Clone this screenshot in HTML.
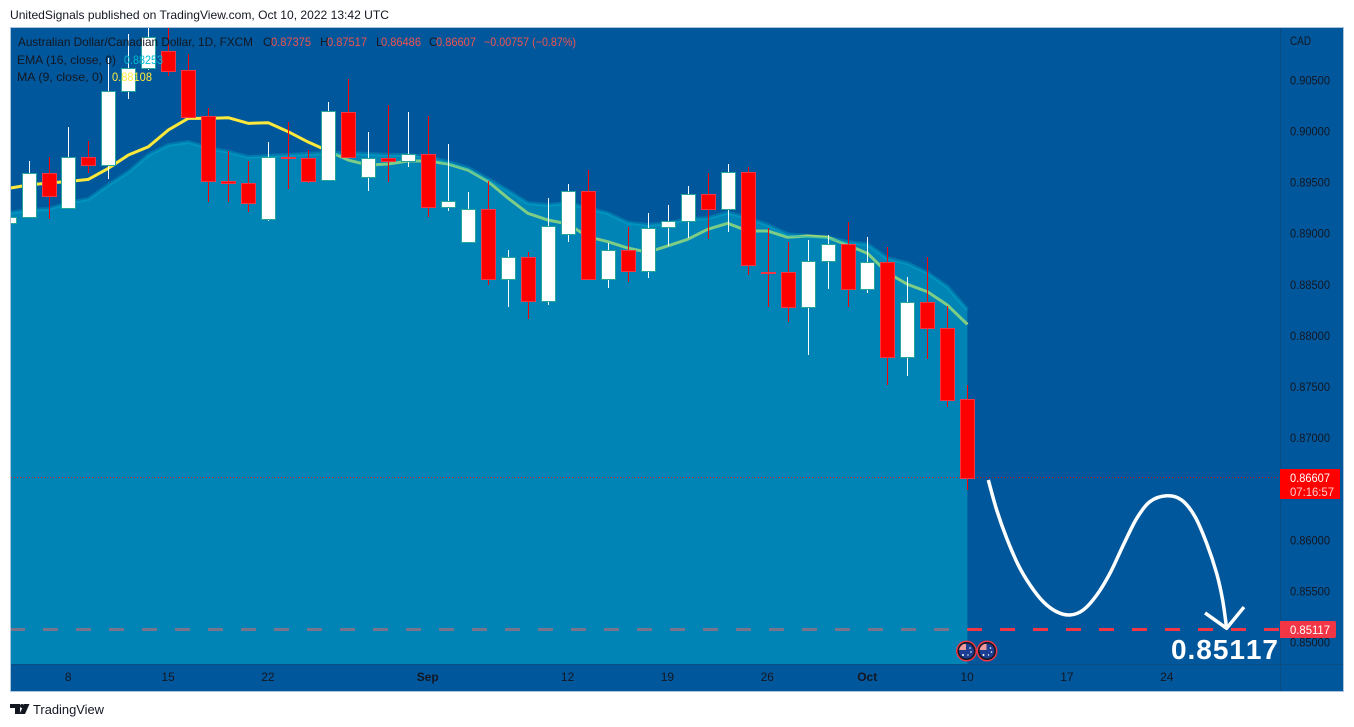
<!DOCTYPE html>
<html lang="en">
<head>
<meta charset="utf-8">
<title>AUD/CAD chart</title>
<style>
html,body{margin:0;padding:0;background:#fff;width:1354px;height:727px;overflow:hidden}
svg{display:block;position:absolute;left:0;top:0}
text{font-family:"Liberation Sans",sans-serif;font-size:12px;fill:#131722}
</style>
</head>
<body>
<svg id="chart" xmlns="http://www.w3.org/2000/svg" width="1354" height="727" viewBox="0 0 1354 727">
  <defs>
    <clipPath id="plot-clip"><rect x="11" y="28" width="1269" height="636"/></clipPath>
    <clipPath id="flag-a"><circle cx="966.5" cy="651" r="7.5"/></clipPath>
    <clipPath id="flag-b"><circle cx="987" cy="651" r="7.5"/></clipPath>
  </defs>

  <text x="10" y="19" textLength="379" lengthAdjust="spacingAndGlyphs" font-size="12">UnitedSignals published on TradingView.com, Oct 10, 2022 13:42 UTC</text>

  <rect x="10.5" y="27.5" width="1333" height="664" fill="#01579b" stroke="#a9c4dc" stroke-width="1"/>

  <g id="plot" clip-path="url(#plot-clip)"></g>

  <line x1="1280.5" y1="28" x2="1280.5" y2="691" stroke="#0a4d82" stroke-width="1"/>
  <line x1="11" y1="664.5" x2="1343" y2="664.5" stroke="#0a4d82" stroke-width="1"/>

  <g id="y-axis"></g>
  <g id="x-axis"></g>

  <text x="1290" y="45" textLength="21" lengthAdjust="spacingAndGlyphs">CAD</text>

  <g>
    <rect x="1280" y="469" width="60" height="30" fill="#ff0000"/>
    <text x="1290" y="482" textLength="40" lengthAdjust="spacingAndGlyphs" style="fill:#ffffff">0.86607</text>
    <text x="1290" y="496" textLength="44" lengthAdjust="spacingAndGlyphs" style="fill:#ffc9c9">07:16:57</text>
  </g>

  <g>
    <path d="M1280 621H1334a2 2 0 0 1 2 2V636a2 2 0 0 1 -2 2H1280Z" fill="#f23645"/>
    <text x="1290" y="634" textLength="40" lengthAdjust="spacingAndGlyphs" style="fill:#ffffff">0.85117</text>
  </g>

  <g>
    <text x="18" y="46" textLength="235" lengthAdjust="spacingAndGlyphs">Australian Dollar/Canadian Dollar, 1D, FXCM</text>
    <text x="263" y="46">O</text>
    <text x="271" y="46" textLength="40" lengthAdjust="spacingAndGlyphs" style="fill:#ef5350">0.87375</text>
    <text x="320" y="46">H</text>
    <text x="327" y="46" textLength="40" lengthAdjust="spacingAndGlyphs" style="fill:#ef5350">0.87517</text>
    <text x="376" y="46">L</text>
    <text x="381" y="46" textLength="40" lengthAdjust="spacingAndGlyphs" style="fill:#ef5350">0.86486</text>
    <text x="429" y="46">C</text>
    <text x="436" y="46" textLength="40" lengthAdjust="spacingAndGlyphs" style="fill:#ef5350">0.86607</text>
    <text x="484" y="46" textLength="92" lengthAdjust="spacingAndGlyphs" style="fill:#ef5350">−0.00757 (−0.87%)</text>
    <text x="17" y="64" textLength="99" lengthAdjust="spacingAndGlyphs">EMA (16, close, 0)</text>
    <text x="124" y="64" textLength="39" lengthAdjust="spacingAndGlyphs" style="fill:#00bcd4">0.88253</text>
    <text x="17" y="81" textLength="86" lengthAdjust="spacingAndGlyphs">MA (9, close, 0)</text>
    <text x="112" y="81" textLength="40" lengthAdjust="spacingAndGlyphs" style="fill:#ffeb3b">0.88108</text>
  </g>

  <g>
    <circle cx="966.5" cy="651" r="10.5" fill="#f23645"/>
    <circle cx="966.5" cy="651" r="9" fill="#131722"/>
    <circle cx="966.5" cy="651" r="7.5" fill="#1c3f94"/>
    <g clip-path="url(#flag-a)"><rect x="959" y="644" width="7" height="6" fill="#ef9a9a"/></g>
    <circle cx="963" cy="655" r="1" fill="#fff"/><circle cx="970" cy="648" r=".8" fill="#fff"/><circle cx="971" cy="652" r=".8" fill="#fff"/><circle cx="968" cy="655" r=".7" fill="#fff"/>
  </g>
  <g>
    <circle cx="987" cy="651" r="10.5" fill="#f23645"/>
    <circle cx="987" cy="651" r="9" fill="#131722"/>
    <circle cx="987" cy="651" r="7.5" fill="#1c3f94"/>
    <g clip-path="url(#flag-b)"><rect x="979.5" y="644" width="7" height="6" fill="#ef9a9a"/></g>
    <circle cx="983.5" cy="655" r="1" fill="#fff"/><circle cx="990.5" cy="648" r=".8" fill="#fff"/><circle cx="991.5" cy="652" r=".8" fill="#fff"/><circle cx="988.5" cy="655" r=".7" fill="#fff"/>
  </g>

  <text x="1171" y="659" textLength="107" lengthAdjust="spacing" style="fill:#ffffff;font-size:28px;font-weight:bold;font-kerning:none">0.85117</text>

  <g>
    <path d="M10 704H20V714H15V708H10ZM24 704H29.5L25 714H19.5Z" fill="#131722"/>
    <circle cx="22" cy="706" r="2" fill="#131722"/>
    <text x="33" y="714" textLength="71" lengthAdjust="spacingAndGlyphs" font-size="13" style="font-size:13px">TradingView</text>
  </g>
</svg>

<script>
const barDates = ["Aug 3","Aug 4","Aug 5","Aug 8","Aug 9","Aug 10","Aug 11","Aug 12","Aug 15","Aug 16","Aug 17","Aug 18","Aug 19","Aug 22","Aug 23","Aug 24","Aug 25","Aug 26","Aug 29","Aug 30","Aug 31","Sep 1","Sep 2","Sep 5","Sep 6","Sep 7","Sep 8","Sep 9","Sep 12","Sep 13","Sep 14","Sep 15","Sep 16","Sep 19","Sep 20","Sep 21","Sep 22","Sep 23","Sep 26","Sep 27","Sep 28","Sep 29","Sep 30","Oct 3","Oct 4","Oct 5","Oct 6","Oct 7","Oct 10"];
const opens = [.89100,.89161,.89589,.89247,.89746,.89664,.90388,.90616,.90783,.90597,.90147,.89511,.89488,.89139,.89746,.89736,.89520,.90189,.89547,.89733,.89704,.89772,.89259,.88911,.89234,.88555,.88764,.88334,.88989,.89410,.88555,.88833,.88627,.89058,.89116,.89381,.89234,.89596,.88620,.88617,.88275,.88725,.88891,.88451,.88715,.87786,.88324,.88069,.87375];
const closes = [.89158,.89589,.89368,.89746,.89664,.90388,.90616,.90920,.90590,.90140,.89511,.89488,.89295,.89746,.89731,.89514,.90196,.89743,.89733,.89704,.89772,.89259,.89312,.89234,.88555,.88764,.88334,.89067,.89410,.88555,.88833,.88627,.89048,.89116,.89381,.89234,.89596,.88686,.88614,.88275,.88725,.88891,.88451,.88715,.87786,.88324,.88069,.87365,.86607];
const highs = [.8918,.89706,.89746,.90039,.89902,.90714,.90949,.91135,.91086,.90753,.90225,.89804,.89706,.89892,.90088,.89814,.90284,.90509,.89990,.90254,.90186,.90147,.89873,.89403,.89514,.88836,.88816,.89344,.89481,.89618,.88901,.89061,.89198,.89276,.89462,.89586,.89677,.89645,.89048,.88914,.88933,.88982,.89107,.88960,.88862,.88571,.88764,.88288,.87517];
const lows = [.8905,.89154,.89139,.89241,.89589,.89530,.90316,.90597,.90538,.90140,.89308,.89308,.89210,.89122,.89435,.89494,.89520,.89743,.89416,.89504,.89651,.89161,.89220,.88911,.88493,.88281,.88160,.88300,.88914,.88555,.88467,.88525,.88565,.88870,.88953,.88943,.89015,.88591,.88275,.88134,.87811,.88457,.88281,.88418,.87512,.87606,.87772,.87302,.86486];
const emaValues = [.89198,.89227,.89237,.89295,.89335,.89472,.89599,.89765,.89863,.89892,.89834,.89795,.89746,.89755,.89765,.89775,.89785,.89785,.89775,.89765,.89765,.89746,.89697,.89638,.89530,.89416,.89293,.89276,.89295,.89247,.89195,.89103,.89080,.89095,.89139,.89146,.89201,.89149,.89080,.88989,.88973,.88960,.88914,.88891,.88754,.88705,.88613,.88476,.88253];
const maValues = [.89439,.89472,.89491,.89506,.89527,.89635,.89765,.89846,.90010,.90124,.90124,.90130,.90075,.90081,.89993,.89892,.89804,.89716,.89667,.89677,.89706,.89706,.89677,.89618,.89506,.89344,.89195,.89129,.89090,.88966,.88917,.88855,.88813,.88875,.88940,.89038,.89097,.89022,.89022,.88960,.88973,.88960,.88884,.88803,.88613,.88500,.88427,.88297,.88108];
const priceTickValues = [.905,.90,.895,.89,.885,.88,.875,.87,.865,.86,.855,.85];
const priceTickLabels = ["0.90500","0.90000","0.89500","0.89000","0.88500","0.88000","0.87500","0.87000","","0.86000","0.85500","0.85000"];
const timeTickBars = [3,8,13,21,28,33,38,43,48,53,58];
const timeTickLabels = ["8","15","22","Sep","12","19","26","Oct","10","17","24"];
const lastPrice = 0.86607;
const targetPrice = 0.85117;
const projectionBars = [49.05,49.47,49.97,50.55,51.14,51.80,52.47,53.14,53.80,54.48,55.14,55.81,56.48,57.14,57.98,58.73,59.40,59.98,60.48,60.78,60.98];
const projectionPrices = [.86585,.86291,.86015,.85753,.85558,.85394,.85296,.85264,.85313,.85460,.85672,.85949,.86210,.86373,.86431,.86389,.86226,.85966,.85672,.85411,.85134];
const arrowBars = [59.90,60.98,61.85];
const arrowPrices = [.85284,.85134,.85342];

const NS = "http://www.w3.org/2000/svg";
const xScale = function (bar) { return 8.55 + 19.975 * bar; };
const yScale = function (price) { return 131 + (0.9 - price) * 10220; };

function make(tag, parent, attrs) {
  const el = document.createElementNS(NS, tag);
  for (const k in attrs) el.setAttribute(k, attrs[k]);
  parent.appendChild(el);
  return el;
}
function polyPath(xs, ys) {
  return xs.map(function (x, i) { return (i ? "L" : "M") + x.toFixed(2) + " " + ys[i].toFixed(2); }).join(" ");
}
function smoothPath(xs, ys) {
  let d = "M" + xs[0].toFixed(2) + " " + ys[0].toFixed(2);
  for (let i = 0; i < xs.length - 1; i++) {
    const a = Math.max(i - 1, 0), b = Math.min(i + 2, xs.length - 1);
    const c1x = xs[i] + (xs[i + 1] - xs[a]) / 6, c1y = ys[i] + (ys[i + 1] - ys[a]) / 6;
    const c2x = xs[i + 1] - (xs[b] - xs[i]) / 6, c2y = ys[i + 1] - (ys[b] - ys[i]) / 6;
    d += " C" + c1x.toFixed(2) + " " + c1y.toFixed(2) + " " + c2x.toFixed(2) + " " + c2y.toFixed(2) + " " + xs[i + 1].toFixed(2) + " " + ys[i + 1].toFixed(2);
  }
  return d;
}

const plot = document.getElementById("plot");
const plotLeft = 11, plotRight = 1280, plotBottom = 664;

/* target dashed line, below the translucent area */
const targetY = Math.floor(yScale(targetPrice)) - 0.5;
const targetLine = make("line", plot, { x1: plotLeft - 1, x2: plotRight, y1: targetY, y2: targetY, stroke: "#f23645", "stroke-width": 3, "stroke-dasharray": "15 18" });



/* MA line, below the translucent area */
const barIdx = maValues.map(function (_, i) { return i; });
const maLine = make("path", plot, { d: polyPath(barIdx.map(xScale), maValues.map(yScale)), fill: "none", stroke: "#fde83c", "stroke-width": 3, "stroke-linejoin": "round" });



/* EMA area */
const emaXs = barIdx.map(xScale), emaYs = emaValues.map(yScale);
const areaD = polyPath(emaXs, emaYs) + " L" + emaXs[emaXs.length - 1].toFixed(2) + " " + plotBottom + " L" + emaXs[0].toFixed(2) + " " + plotBottom + " Z";
const emaArea = make("path", plot, { d: areaD, fill: "#00b1cf", "fill-opacity": 0.5 });


const emaLine = make("path", plot, { d: polyPath(emaXs, emaYs), fill: "none", stroke: "#00b1cf", "stroke-opacity": 0.35, "stroke-width": 4, "stroke-linejoin": "round" });



/* last price dotted line */
const lastY = Math.floor(yScale(lastPrice)) + 0.5;
const lastLine = make("line", plot, { x1: plotLeft, x2: plotRight, y1: lastY, y2: lastY, stroke: "#ff0000", "stroke-width": 1, "stroke-dasharray": "1 2", "stroke-opacity": 0.8 });



/* candles */
barDates.forEach(function (date, i) {
  const up = closes[i] >= opens[i];
  const cx = xScale(i);
  const g = make("g", plot, { "shape-rendering": "crispEdges" });
  
  
  const wickX = Math.round(cx);
  const hiY = Math.round(yScale(highs[i])), loY = Math.round(yScale(lows[i]));
  const wick = make("rect", g, { x: wickX, y: hiY, width: 1, height: Math.max(loY - hiY, 1), fill: up ? "#ffffff" : "#ff0000" });
  
  
  const left = wickX - 7, right = wickX + 8;
  const top = Math.round(yScale(Math.max(opens[i], closes[i])));
  const bottom = Math.round(yScale(Math.min(opens[i], closes[i]))) + 1;
  const border = make("rect", g, { x: left, y: top, width: right - left, height: Math.max(bottom - top, 1), fill: up ? "#26a69a" : "#f23645" });
  
  
  if (bottom - top > 2) {
    const body = make("rect", g, { x: left + 1, y: top + 1, width: right - left - 2, height: bottom - top - 2, fill: up ? "#ffffff" : "#ff0000" });
    
    
  }
});

/* hand drawn projection */
const projection = make("path", plot, { d: smoothPath(projectionBars.map(xScale), projectionPrices.map(yScale)), fill: "none", stroke: "#ffffff", "stroke-width": 3.5 });


const arrow = make("path", plot, { d: polyPath(arrowBars.map(xScale), arrowPrices.map(yScale)), fill: "none", stroke: "#ffffff", "stroke-width": 3.5, "stroke-linejoin": "round" });



/* price axis */
const yAxis = document.getElementById("y-axis");
priceTickValues.forEach(function (v, i) {
  if (!priceTickLabels[i]) return;
  const t = make("text", yAxis, { x: 1290, y: (yScale(v) + 4.5).toFixed(1), textLength: 40, lengthAdjust: "spacingAndGlyphs" });
  t.textContent = priceTickLabels[i];
  
  
});

/* time axis */
const xAxis = document.getElementById("x-axis");
timeTickBars.forEach(function (bar, i) {
  const label = timeTickLabels[i];
  const t = make("text", xAxis, { x: (xScale(bar) - 0.3).toFixed(1), y: 681, "text-anchor": "middle" });
  t.textContent = label;
  if (label === "Sep" || label === "Oct") t.style.fontWeight = "bold";
  
  
});
</script>
</body>
</html>
